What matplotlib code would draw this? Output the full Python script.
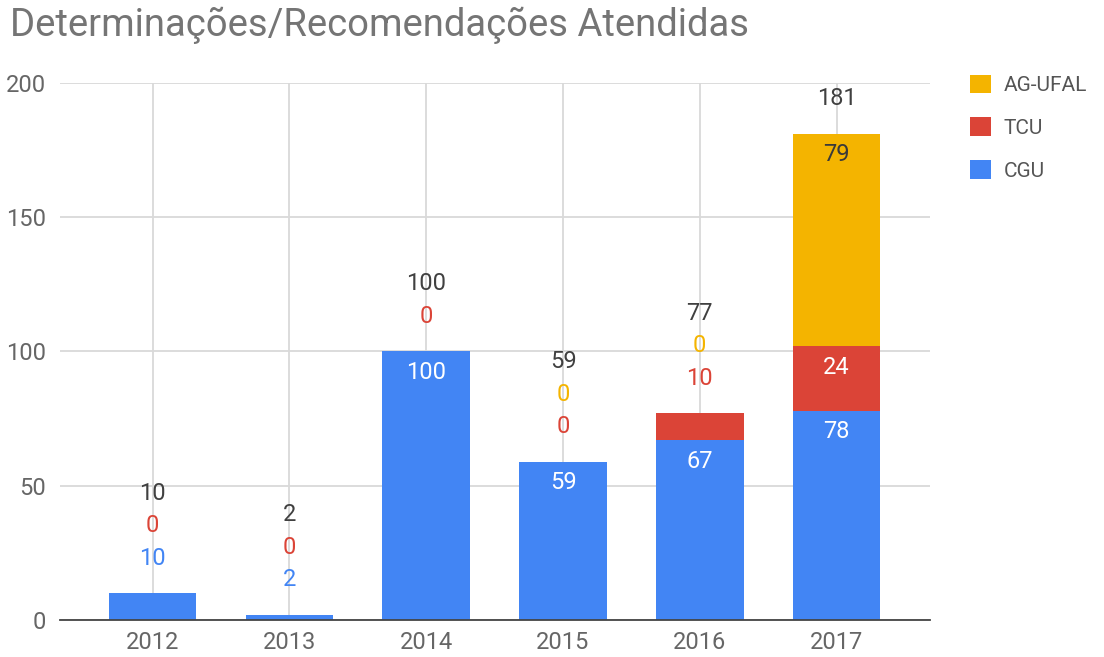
import numpy as np
import matplotlib.pyplot as plt

plt.rcParams['font.family'] = ['Roboto', 'DejaVu Sans']

# data
years = ['2012', '2013', '2014', '2015', '2016', '2017']
cgu = [10, 2, 100, 59, 67, 78]
tcu = [0, 0, 0, 0, 10, 24]
agufal = [None, None, None, 0, 0, 79]   # None = no value in sheet

series = [('CGU', cgu, '#4285F4'), ('TCU', tcu, '#DB4437'), ('AG-UFAL', agufal, '#F4B400')]
inside_txt = {'CGU': 'white', 'TCU': 'white', 'AG-UFAL': '#3a3a3a'}

fig = plt.figure(figsize=(11.04, 6.57), dpi=100)
ax = fig.add_axes([0.054, 0.0563, 0.788, 0.8174])

x = np.arange(len(years))
width = 0.64
bottoms = np.zeros(len(years))
outside = [[] for _ in years]  # labels that go above the stack

for name, vals, col in series:
    v = np.array([0 if a is None else a for a in vals], dtype=float)
    ax.bar(x, v, width, bottom=bottoms, color=col, label=name, zorder=2)
    for i, a in enumerate(vals):
        if a is None:
            continue
        top = bottoms[i] + a
        if a >= 15:
            ax.annotate(str(a), (x[i], top), xytext=(0, -21), textcoords='offset pixels',
                        ha='center', va='center', fontsize=17, color=inside_txt[name], zorder=4)
        else:
            outside[i].append((str(a), col))
    bottoms += v

totals = bottoms
for i in range(len(years)):
    labs = outside[i] + [(str(int(totals[i])), '#404040')]
    for k, (t, c) in enumerate(labs):
        ax.annotate(t, (x[i], totals[i]), xytext=(0, 35 + 32.5 * k), textcoords='offset pixels',
                    ha='center', va='center', fontsize=17, color=c, zorder=4)

ax.set_xlim(-0.68, len(years) - 0.32)
ax.set_ylim(0, 200)
ax.set_yticks([0, 50, 100, 150, 200])
ax.set_xticks(x)
ax.set_xticklabels(years)
ax.grid(True, color='#d9d9d9', linewidth=1.3, zorder=0)
ax.set_axisbelow(True)
for s in ['top', 'right', 'left']:
    ax.spines[s].set_visible(False)
ax.spines['bottom'].set_color('#444444')
ax.spines['bottom'].set_linewidth(1.3)
ax.spines['bottom'].set_zorder(3)
ax.tick_params(length=0, labelsize=17, labelcolor='#666666')
ax.tick_params(axis='x', pad=8)
ax.tick_params(axis='y', pad=10)

fig.text(0.009, 0.962, 'Determinações/Recomendações Atendidas', fontsize=27.5,
         color='#757575', ha='left', va='center')

handles, labels = ax.get_legend_handles_labels()
leg = fig.legend(handles[::-1], labels[::-1], loc='upper left', bbox_to_anchor=(0.862, 0.915),
                 frameon=False, fontsize=15, labelcolor='#555555', handlelength=1.0,
                 handleheight=1.0, handletextpad=0.6, labelspacing=1.07)

fig.savefig('out.png', dpi=100)
